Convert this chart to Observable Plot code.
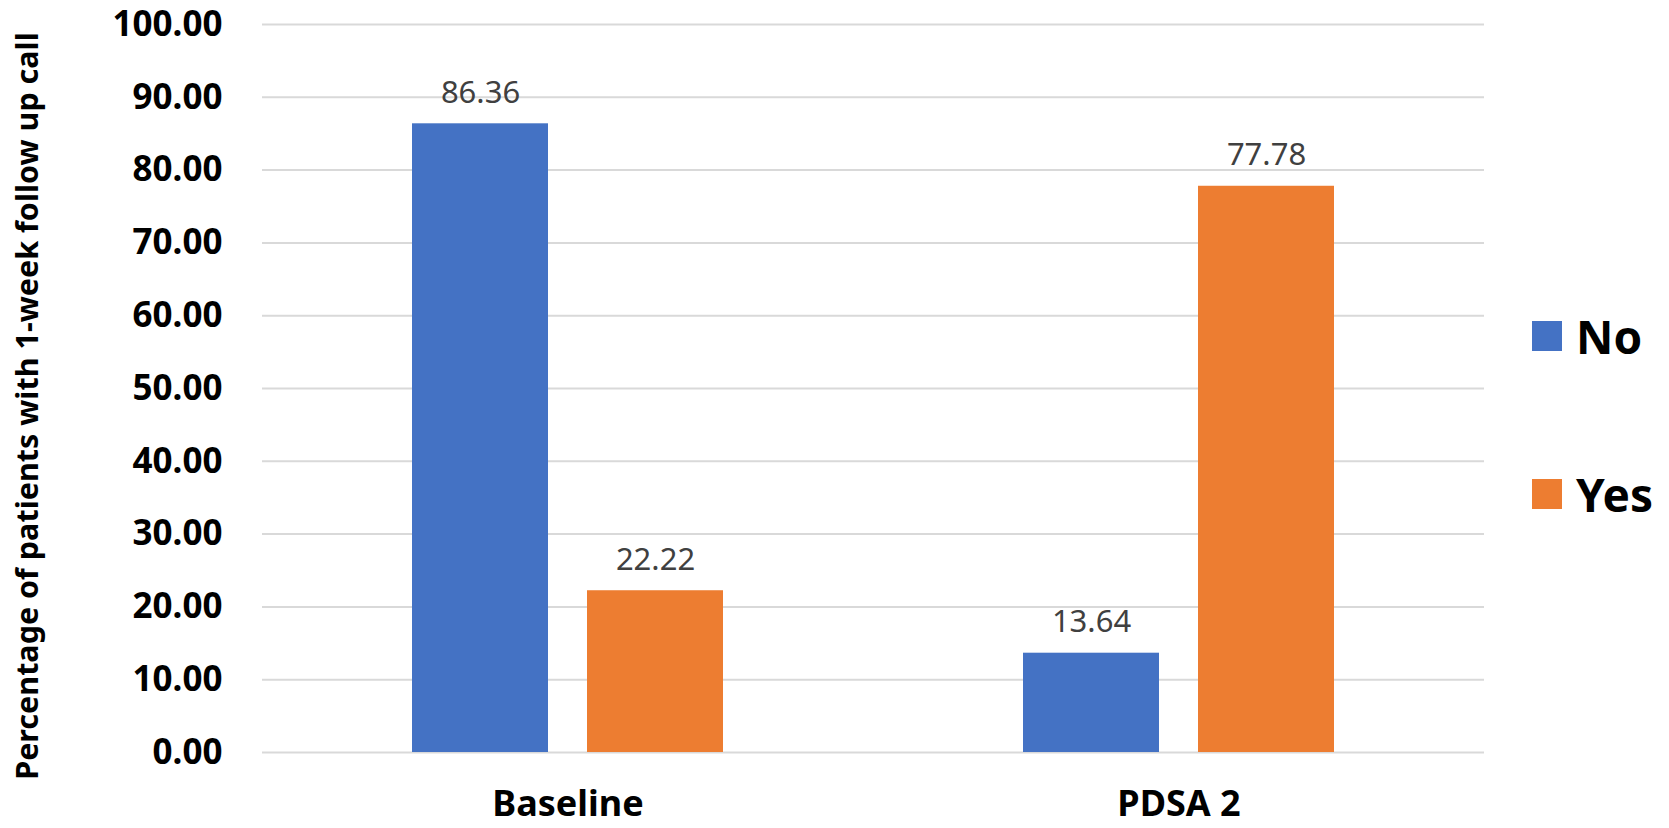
<!DOCTYPE html>
<html>
<head>
<meta charset="utf-8">
<script src="https://cdn.jsdelivr.net/npm/d3@7"></script>
<script src="https://cdn.jsdelivr.net/npm/@observablehq/plot@0.6"></script>
<style>
  html, body { margin: 0; padding: 0; background: #fff; }
  #chart { position: relative; width: 1669px; height: 828px; font-family: "Noto Sans", sans-serif; }
  #chart svg { display: block; }
  .ytitle {
    position: absolute; left: 26px; top: 406px;
    transform: translate(-50%, -50%) rotate(-90deg);
    white-space: nowrap; font-weight: bold; font-size: 30.5px; line-height: 1; color: #000;
  }
  .legend-item { position: absolute; left: 1532px; display: flex; align-items: center; }
  .legend-item .swatch { width: 30px; height: 30px; margin-right: 14px; }
  .legend-item .label { font-weight: bold; font-size: 46px; line-height: 1; color: #000; }
</style>
</head>
<body>
<div id="chart"></div>
<script>
// Share of patients receiving a 1-week follow-up call, by period
const periods = ["Baseline", "PDSA 2"];
const responses = ["No", "Yes"];
const noValues = [86.36, 13.64];
const yesValues = [22.22, 77.78];
const colors = ["#4472C4", "#ED7D31"];
const yTicks = [0, 10, 20, 30, 40, 50, 60, 70, 80, 90, 100];
const yTitle = "Percentage of patients with 1-week follow up call";

const rows = periods.flatMap((period, i) => [
  {period, response: responses[0], value: noValues[i]},
  {period, response: responses[1], value: yesValues[i]}
]);

const chart = Plot.plot({
  width: 1669,
  height: 828,
  marginLeft: 262,
  marginRight: 185,
  marginTop: 24,
  marginBottom: 76,
  style: {fontFamily: "'Noto Sans', sans-serif", background: "#fff", color: "#000"},
  fx: {domain: periods, padding: 0, label: null},
  x: {domain: responses, paddingInner: 0.223, paddingOuter: 0.857, axis: null},
  y: {domain: [0, 100], label: null},
  color: {domain: responses, range: colors},
  marks: [
    Plot.gridY(yTicks, {stroke: "#d9d9d9", strokeOpacity: 1, strokeWidth: 2}),
    Plot.axisY(yTicks, {
      tickSize: 0, tickPadding: 40, tickFormat: d => d.toFixed(2),
      fontSize: 35, fontWeight: "bold", label: null
    }),
    Plot.axisFx({anchor: "bottom", tickSize: 0, tickPadding: 38, fontSize: 36, fontWeight: "bold", label: null}),
    Plot.barY(rows, {fx: "period", x: "response", y: "value", fill: "response"}),
    Plot.text(rows, {
      fx: "period", x: "response", y: "value",
      text: d => d.value.toFixed(2),
      dy: -21, lineAnchor: "bottom", fontSize: 31, fill: "#404040"
    })
  ]
});

const root = document.getElementById("chart");
root.appendChild(chart);

// Rotated y-axis title
const title = document.createElement("div");
title.className = "ytitle";
title.textContent = yTitle;
root.appendChild(title);

// Legend on the right
const legendTops = [313, 471];
responses.forEach((name, i) => {
  const item = document.createElement("div");
  item.className = "legend-item";
  item.style.top = legendTops[i] + "px";
  const sw = document.createElement("div");
  sw.className = "swatch";
  sw.style.background = colors[i];
  const lb = document.createElement("div");
  lb.className = "label";
  lb.textContent = name;
  item.appendChild(sw);
  item.appendChild(lb);
  root.appendChild(item);
});
</script>
</body>
</html>
